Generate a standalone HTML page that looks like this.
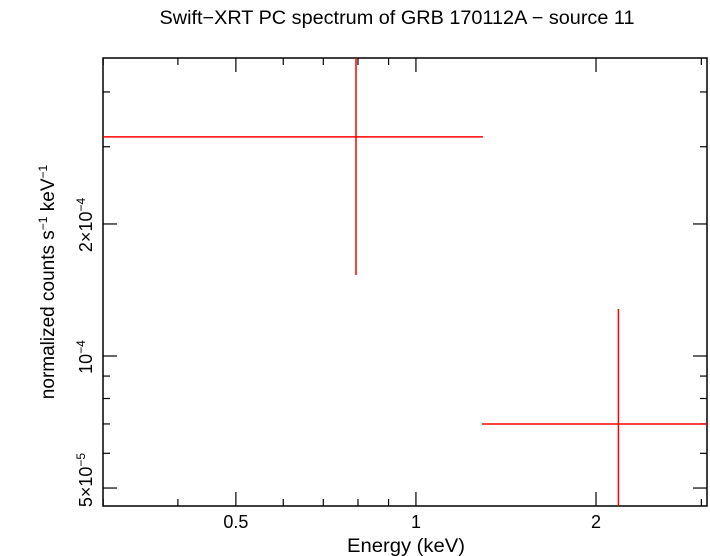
<!DOCTYPE html>
<html><head><meta charset="utf-8"><style>
body{margin:0;background:#fff;}
svg{display:block;font-family:"Liberation Sans",sans-serif;}
</style></head><body>
<svg id="chart" width="710" height="556" viewBox="0 0 710 556">
<text x="397" y="24" font-size="19" text-anchor="middle" textLength="475" lengthAdjust="spacingAndGlyphs">Swift−XRT PC spectrum of GRB 170112A − source 11</text>
<text x="406" y="552" font-size="19" text-anchor="middle" textLength="118" lengthAdjust="spacingAndGlyphs">Energy (keV)</text>
<text transform="translate(54,282) rotate(-90)" font-size="19" text-anchor="middle">normalized counts s<tspan font-size="12" dy="-7">−1</tspan><tspan dy="7"> keV</tspan><tspan font-size="12" dy="-7">−1</tspan></text>
<g id="axes"></g>
<g id="data"></g>
</svg>
<script>
const xMajorTicks=[0.5,1,2];
const xMajorLabels=["0.5","1","2"];
const xMinorTicks=[0.3,0.4,0.6,0.7,0.8,0.9,3];
const yMajorTicks=[5e-5,1e-4,2e-4];
const yMinorTicks=[6e-5,7e-5,8e-5,9e-5,3e-4,4e-4];
const binLo=[0.3,1.29];
const binHi=[1.294,3.07];
const binCenter=[0.794,2.18];
const rate=[3.16e-4,7.0e-5];
const errLo=[1.53e-4,4.0e-5];
const errHi=[4.9e-4,1.28e-4];

const L=103,R=707,T=58,B=506;
const xmin=0.2998,xmax=3.066,ymin=4.55e-5,ymax=4.78e-4;
const X=v=>L+(Math.log10(v)-Math.log10(xmin))/(Math.log10(xmax)-Math.log10(xmin))*(R-L);
const Y=v=>B-(Math.log10(v)-Math.log10(ymin))/(Math.log10(ymax)-Math.log10(ymin))*(B-T);
const NS="http://www.w3.org/2000/svg";
function mk(tag,attrs,parent){const e=document.createElementNS(NS,tag);for(const k in attrs)e.setAttribute(k,attrs[k]);parent.appendChild(e);return e;}
const ax=document.getElementById('axes'),dg=document.getElementById('data');
const frame=mk('rect',{x:L,y:T,width:R-L,height:B-T,fill:'none',stroke:'#000','stroke-width':1.5},ax);


function tick(x1,y1,x2,y2){const t=mk('line',{x1,y1,x2,y2,stroke:'#000','stroke-width':1.2},ax);

}
xMajorTicks.forEach((v,i)=>{const x=X(v);tick(x,B,x,B-14);tick(x,T,x,T+14);
const t=mk('text',{x:x,y:528,'font-size':18,'text-anchor':'middle'},ax);t.textContent=xMajorLabels[i];

});
xMinorTicks.forEach(v=>{const x=X(v);if(x<L||x>R)return;tick(x,B,x,B-7);tick(x,T,x,T+7);});
yMajorTicks.forEach(v=>{const y=Y(v);tick(L,y,L+14,y);tick(R,y,R-14,y);});
yMinorTicks.forEach(v=>{const y=Y(v);tick(L,y,L+7,y);tick(R,y,R-7,y);});
function ylab(y,html){const t=mk('text',{transform:`translate(92,${y}) rotate(-90)`,'font-size':18,'text-anchor':'middle'},ax);t.innerHTML=html;

}
ylab(Y(5e-5)-8,'5×10<tspan font-size="12" dy="-7">−5</tspan>');
ylab(Y(1e-4)+1,'10<tspan font-size="12" dy="-7">−4</tspan>');
ylab(Y(2e-4)+1,'2×10<tspan font-size="12" dy="-7">−4</tspan>');
const clip=mk('clipPath',{id:'pc'},dg);mk('rect',{x:L,y:T,width:R-L,height:B-T},clip);
for(let i=0;i<rate.length;i++){
 const g=mk('g',{'clip-path':'url(#pc)',stroke:'#f00','stroke-width':1.5},dg);
 
 
 mk('line',{x1:X(binLo[i]),x2:X(binHi[i]),y1:Y(rate[i]),y2:Y(rate[i])},g);
 mk('line',{x1:X(binCenter[i]),x2:X(binCenter[i]),y1:Y(errLo[i]),y2:Y(errHi[i])},g);
}
</script>
</body></html>
